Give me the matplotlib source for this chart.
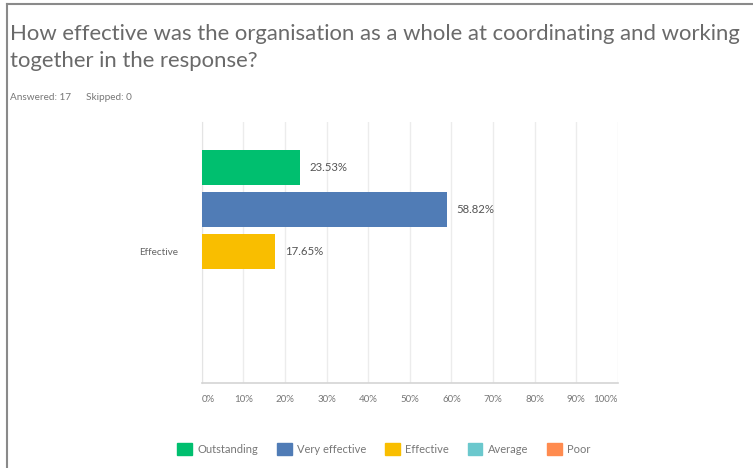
import matplotlib
matplotlib.use('Agg')
import matplotlib.pyplot as plt
from matplotlib.patches import Patch
from matplotlib.lines import Line2D

plt.rcParams['font.family'] = ['Lato', 'DejaVu Sans']

answers = ['Outstanding', 'Very effective', 'Effective', 'Average', 'Poor']
percent = [23.53, 58.82, 17.65, 0.0, 0.0]
colors = ['#00bf6f', '#507cb6', '#f9be00', '#6bc8cd', '#ff8b4f']
xticks = [0, 10, 20, 30, 40, 50, 60, 70, 80, 90, 100]
xtick_labels = ['%d%%' % t for t in xticks]
row_label = 'Effective'

W, H = 753, 468
fig = plt.figure(figsize=(W / 100, H / 100), dpi=100)

# outer frame, only top and left edges show
fig.add_artist(Line2D([7 / W, 7 / W], [0, 1 - 4 / H], color='#8a8a8a', lw=1.5))
fig.add_artist(Line2D([7 / W, 1], [1 - 4 / H, 1 - 4 / H], color='#8a8a8a', lw=1.5))

fig.text(10 / W, 1 - 34 / H, 'How effective was the organisation as a whole at coordinating and working',
         fontsize=15.9, color='#6a6a6a', va='center')
fig.text(10 / W, 1 - 61 / H, 'together in the response?',
         fontsize=15.9, color='#6a6a6a', va='center')
fig.text(10 / W, 1 - 97 / H, 'Answered: 17      Skipped: 0', fontsize=7.2, color='#777777', va='center')

x0, x1, y_top, y_bot = 201.7, 618, 122, 383
ax = fig.add_axes([x0 / W, 1 - y_bot / H, (x1 - x0) / W, (y_bot - y_top) / H])

pos = list(range(len(answers)))
ax.barh(pos, percent, height=0.84, color=colors, zorder=3)
for p, v in zip(pos, percent):
    if v > 0:
        ax.text(v + 2.4, p, '%.2f%%' % v, va='center', ha='left', fontsize=8.2, color='#555555')

ax.set_xlim(0, 100)
ax.set_ylim(5.15, -1.10)
ax.set_xticks(xticks)
ax.set_xticklabels(xtick_labels, fontsize=7, color='#777777')
ax.get_xticklabels()[0].set_ha('left')
ax.get_xticklabels()[-1].set_ha('right')
ax.set_yticks([2])
ax.set_yticklabels([row_label], fontsize=7.2, color='#666666')
ax.tick_params(axis='both', length=0)
ax.tick_params(axis='x', pad=9)
ax.tick_params(axis='y', pad=17)
ax.grid(axis='x', color='#ececec', lw=1, zorder=0)
for side in ['top', 'right']:
    ax.spines[side].set_visible(False)
ax.spines['left'].set_color('#e4e4e4')
ax.spines['bottom'].set_color('#d4d4d4')
ax.spines['bottom'].set_linewidth(1.2)

handles = [Patch(facecolor=c, edgecolor=c) for c in colors]
fig.legend(handles, answers, loc='center', bbox_to_anchor=(384 / W, 1 - 449 / H), ncol=5,
           frameon=False, fontsize=8, labelcolor='#777777', handlelength=1.3, handleheight=1.3,
           handletextpad=0.5, columnspacing=1.7)

fig.savefig('out.png', dpi=100, facecolor='white')
